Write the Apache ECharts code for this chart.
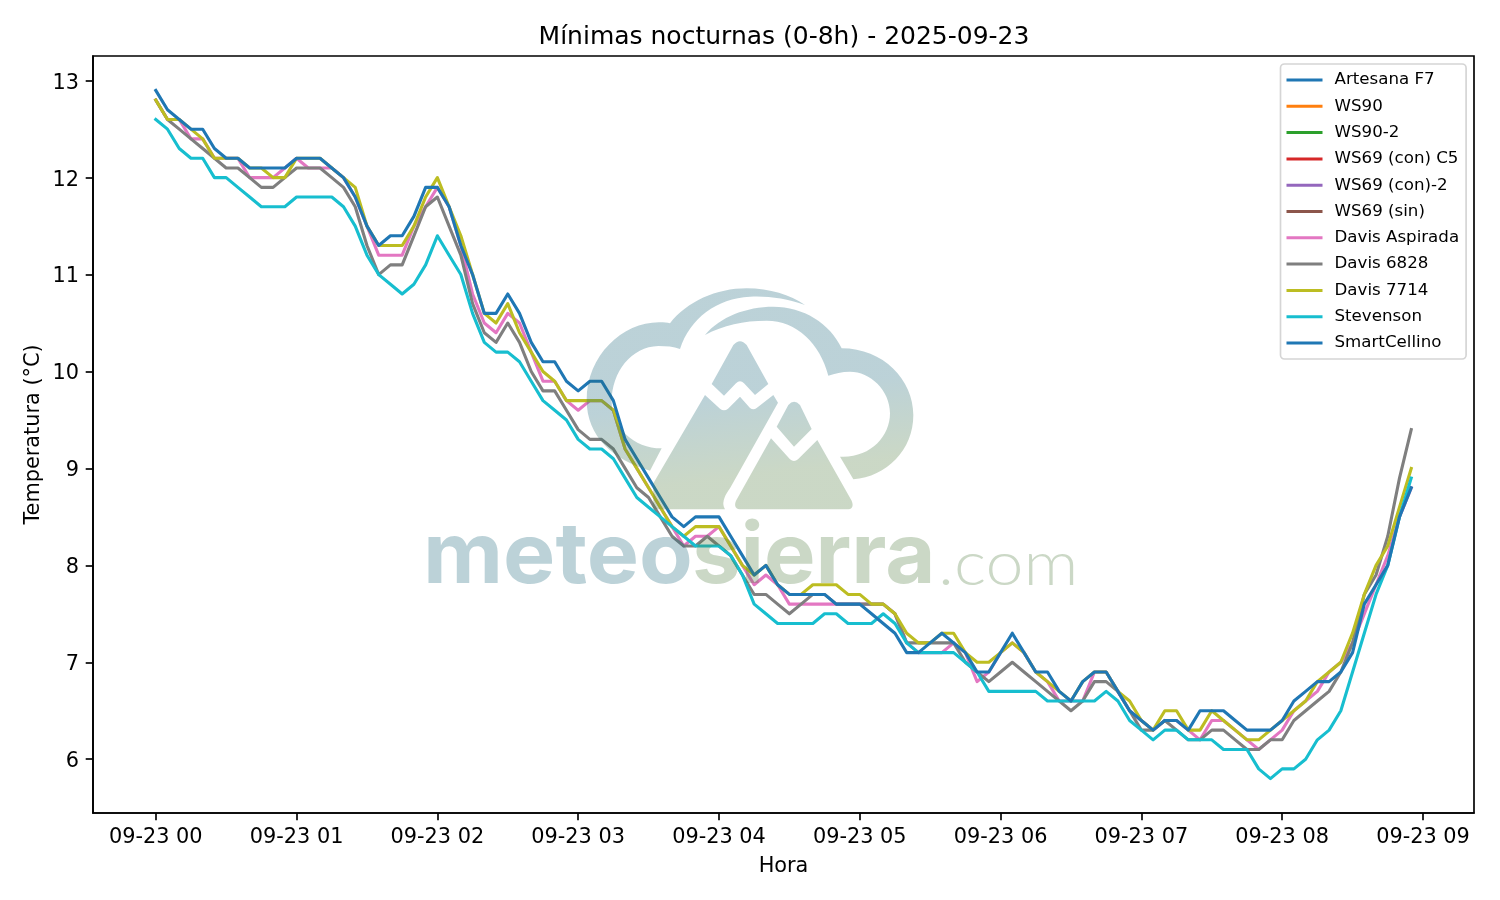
<!DOCTYPE html>
<html>
<head>
<meta charset="utf-8">
<style>html,body{margin:0;padding:0;background:#fff}#c{width:1500px;height:900px}</style>
<script src="https://cdn.jsdelivr.net/npm/echarts@6/dist/echarts.min.js"></script>
</head>
<body>
<div id="c"></div>
<script>
const titleText = 'Mínimas nocturnas (0-8h) - 2025-09-23';
const xTickLabels = ['09-23 00','09-23 01','09-23 02','09-23 03','09-23 04','09-23 05','09-23 06','09-23 07','09-23 08','09-23 09'];
const yTickValues = [6,7,8,9,10,11,12,13];
const seriesNames = ['Artesana F7','WS90','WS90-2','WS69 (con) C5','WS69 (con)-2','WS69 (sin)','Davis Aspirada','Davis 6828','Davis 7714','Stevenson','SmartCellino'];
const palette = ['#1f77b4','#ff7f0e','#2ca02c','#d62728','#9467bd','#8c564b','#e377c2','#7f7f7f','#bcbd22','#17becf','#1f77b4'];

const artesana = [];
const ws90 = [];
const ws902 = [];
const ws69c5 = [];
const ws69con2 = [];
const ws69sin = [];
const davisAspirada = [
12.8,12.6,12.6,12.4,12.4,12.2,12.2,12.2,12.0,12.0,12.0,12.1,
12.2,12.1,12.1,12.1,12.0,11.8,11.5,11.2,11.2,11.2,11.5,11.7,
11.9,11.7,11.3,10.8,10.5,10.4,10.6,10.5,10.2,9.9,9.9,9.7,
9.6,9.7,9.7,9.6,9.2,9.0,8.8,8.6,8.4,8.2,8.3,8.3,
8.4,8.2,8.0,7.8,7.9,7.8,7.6,7.6,7.6,7.6,7.6,7.6,
7.6,7.6,7.6,7.5,7.2,7.1,7.1,7.1,7.2,7.1,6.8,6.9,
7.1,7.2,7.1,6.9,6.8,6.6,6.6,6.6,6.9,6.9,6.7,6.5,
6.4,6.3,6.4,6.4,6.3,6.2,6.4,6.4,6.3,6.2,6.1,6.2,
6.3,6.5,6.6,6.7,6.9,7.0,7.2,7.5,7.8,8.1,8.5,8.8];
const davis6828 = [
12.8,12.6,12.5,12.4,12.3,12.2,12.1,12.1,12.0,11.9,11.9,12.0,
12.1,12.1,12.1,12.0,11.9,11.7,11.3,11.0,11.1,11.1,11.4,11.7,
11.8,11.5,11.2,10.7,10.4,10.3,10.5,10.3,10.0,9.8,9.8,9.6,
9.4,9.3,9.3,9.2,9.0,8.8,8.7,8.5,8.3,8.2,8.2,8.3,
8.2,8.1,7.9,7.7,7.7,7.6,7.5,7.6,7.7,7.7,7.6,7.6,
7.6,7.6,7.6,7.5,7.2,7.2,7.2,7.2,7.2,7.0,6.9,6.8,
6.9,7.0,6.9,6.8,6.7,6.6,6.5,6.6,6.8,6.8,6.7,6.5,
6.3,6.3,6.4,6.3,6.2,6.2,6.3,6.3,6.2,6.1,6.1,6.2,
6.2,6.4,6.5,6.6,6.7,6.9,7.2,7.7,7.9,8.3,8.9,9.4];
const davis7714 = [
12.8,12.6,12.6,12.5,12.4,12.2,12.2,12.2,12.1,12.1,12.0,12.0,
12.2,12.2,12.2,12.1,12.0,11.9,11.5,11.3,11.3,11.3,11.5,11.8,
12.0,11.7,11.4,11.0,10.6,10.5,10.7,10.4,10.2,10.0,9.9,9.7,
9.7,9.7,9.7,9.6,9.2,9.0,8.8,8.6,8.4,8.3,8.4,8.4,
8.4,8.2,8.0,7.9,8.0,7.8,7.7,7.7,7.8,7.8,7.8,7.7,
7.7,7.6,7.6,7.5,7.3,7.2,7.2,7.3,7.3,7.1,7.0,7.0,
7.1,7.2,7.1,6.9,6.8,6.7,6.6,6.8,6.9,6.9,6.7,6.6,
6.4,6.3,6.5,6.5,6.3,6.3,6.5,6.4,6.3,6.2,6.2,6.3,
6.4,6.5,6.6,6.8,6.9,7.0,7.3,7.7,8.0,8.2,8.6,9.0];
const stevenson = [
12.6,12.5,12.3,12.2,12.2,12.0,12.0,11.9,11.8,11.7,11.7,11.7,
11.8,11.8,11.8,11.8,11.7,11.5,11.2,11.0,10.9,10.8,10.9,11.1,
11.4,11.2,11.0,10.6,10.3,10.2,10.2,10.1,9.9,9.7,9.6,9.5,
9.3,9.2,9.2,9.1,8.9,8.7,8.6,8.5,8.4,8.3,8.2,8.2,
8.2,8.1,7.9,7.6,7.5,7.4,7.4,7.4,7.4,7.5,7.5,7.4,
7.4,7.4,7.5,7.4,7.2,7.1,7.1,7.1,7.1,7.0,6.9,6.7,
6.7,6.7,6.7,6.7,6.6,6.6,6.6,6.6,6.6,6.7,6.6,6.4,
6.3,6.2,6.3,6.3,6.2,6.2,6.2,6.1,6.1,6.1,5.9,5.8,
5.9,5.9,6.0,6.2,6.3,6.5,6.9,7.3,7.7,8.0,8.5,8.9];
const smartCellino = [
12.9,12.7,12.6,12.5,12.5,12.3,12.2,12.2,12.1,12.1,12.1,12.1,
12.2,12.2,12.2,12.1,12.0,11.8,11.5,11.3,11.4,11.4,11.6,11.9,
11.9,11.7,11.3,11.0,10.6,10.6,10.8,10.6,10.3,10.1,10.1,9.9,
9.8,9.9,9.9,9.7,9.3,9.1,8.9,8.7,8.5,8.4,8.5,8.5,
8.5,8.3,8.1,7.9,8.0,7.8,7.7,7.7,7.7,7.7,7.6,7.6,
7.6,7.5,7.4,7.3,7.1,7.1,7.2,7.3,7.2,7.1,6.9,6.9,
7.1,7.3,7.1,6.9,6.9,6.7,6.6,6.8,6.9,6.9,6.7,6.5,
6.4,6.3,6.4,6.4,6.3,6.5,6.5,6.5,6.4,6.3,6.3,6.3,
6.4,6.6,6.7,6.8,6.8,6.9,7.1,7.6,7.8,8.0,8.5,8.8];

const seriesValues = [artesana,ws90,ws902,ws69c5,ws69con2,ws69sin,davisAspirada,davis6828,davis7714,stevenson,smartCellino];

const logoPath =
 'M240 572C130 540 50 470 50 360C50 225 160 125 270 127C282 127 292 128 300 130C350 65 440 25 530 25C600 25 660 45 705 75C650 55 590 47 540 50C440 55 360 115 330 207C310 200 290 198 265 198C185 200 125 275 125 365C125 440 190 505 275 505Z' +
 'M405 165C450 110 530 80 610 80C700 80 780 130 815 205C940 205 1030 300 1030 405C1030 510 950 590 850 598L810 530C900 535 960 470 960 400C960 330 900 275 840 275C815 275 795 280 775 287C750 190 680 122 590 122C520 122 460 135 405 165Z' +
 'M425 312L490 195Q510 172 530 195L595 312L555 345L522 310Q510 298 498 310L462 347Z' +
 'M405 345L450 386Q462 396 474 386L510 350L540 384Q550 392 560 384L610 345L624 368L480 625Q450 665 465 688L265 688Q240 688 250 665L250 610Z' +
 'M620 440L655 375Q672 355 690 375L725 447L672 500Z' +
 'M603 475L660 538Q672 548 684 538L742 480L845 662Q855 688 830 688L515 688Q488 688 498 662Z';
echarts.graphic.registerShape('meteoLogo', echarts.graphic.extendPath(logoPath, {}));

const wmBlue = 'rgba(32,105,125,0.3)';
const wmGreen = 'rgba(82,125,65,0.3)';

const tickStyle = {show:true,length:7.3,inside:false,lineStyle:{color:'#000',width:1.67}};
const labelStyle = {color:'#000',fontFamily:'DejaVu Sans',fontSize:20.83};

const chart = echarts.init(document.getElementById('c'),null,{renderer:'canvas',width:1500,height:900});
chart.setOption({
  animation:false,
  backgroundColor:'#fff',
  color:palette,
  title:{text:titleText,left:784,top:25,padding:0,textAlign:'center',textStyle:{color:'#000',fontFamily:'DejaVu Sans',fontSize:25,fontWeight:'normal'}},
  grid:{left:93,right:26,top:56,bottom:87,show:true,borderColor:'#000',borderWidth:1.67,backgroundColor:'transparent'},
  legend:{
    orient:'vertical',left:1280.5,top:64,icon:'rect',itemWidth:36,itemHeight:3,itemGap:8.3,
    padding:[7,7,7,6],backgroundColor:'#fff',borderColor:'#d5d5d5',borderWidth:1.67,borderRadius:4,
    data:seriesNames,
    textStyle:{color:'#000',fontFamily:'DejaVu Sans',fontSize:16.67,lineHeight:18,padding:[0,0,0,7]}
  },
  xAxis:{
    type:'value',min:-26.75,max:561.75,name:'Hora',nameLocation:'middle',nameGap:43,
    nameTextStyle:labelStyle,
    axisLine:{show:true,onZero:false,lineStyle:{color:'#000',width:1.67}},
    axisTick:{...tickStyle,customValues:xTickLabels.map((_,i)=>i*60)},
    axisLabel:{...labelStyle,margin:14,showMinLabel:true,showMaxLabel:true,hideOverlap:false,customValues:xTickLabels.map((_,i)=>i*60),formatter:v=>xTickLabels[Math.round(v/60)]},
    splitLine:{show:false}
  },
  yAxis:{
    type:'value',min:5.445,max:13.255,name:'Temperatura (°C)',nameLocation:'middle',nameGap:49,nameRotate:90,nameMoveOverlap:false,
    nameTextStyle:labelStyle,
    axisLine:{show:true,onZero:false,lineStyle:{color:'#000',width:1.67}},
    axisTick:{...tickStyle,customValues:yTickValues},
    axisLabel:{...labelStyle,margin:14,verticalAlign:'top',lineHeight:5,customValues:yTickValues,formatter:v=>String(v)},
    splitLine:{show:false}
  },
  series:seriesNames.map((name,k)=>({
    name,type:'line',symbol:'none',showSymbol:false,smooth:false,clip:true,
    lineStyle:{width:3.1,cap:'square',join:'round'},
    emphasis:{disabled:true},
    data:seriesValues[k].map((v,i)=>[i*5,v])
  })),
  graphic:{elements:[
    {type:'meteoLogo',x:570,y:280,scaleX:1/3,scaleY:1/3,z:50,silent:true,
     style:{fill:{type:'linear',x:0,y:410,x2:30,y2:650,global:true,colorStops:[{offset:0,color:wmBlue},{offset:1,color:wmGreen}]}}},
    {type:'text',x:423,y:600,z:50,silent:true,scaleX:1.045,
     style:{text:'meteo',fontFamily:'Inter',fontWeight:'bold',fontSize:84,fill:wmBlue,verticalAlign:'bottom'}},
    {type:'text',x:692,y:600,z:50,silent:true,scaleX:1.03,
     style:{text:'sierra',fontFamily:'Inter',fontWeight:'bold',fontSize:84,fill:wmGreen,verticalAlign:'bottom'}},
    {type:'text',x:938,y:596,z:50,silent:true,scaleX:1.1,
     style:{text:'.com',fontFamily:'Lato',fontWeight:'300',fontSize:62,fill:'rgba(82,125,65,0.3)',verticalAlign:'bottom'}}
  ]}
});
</script>
</body>
</html>
